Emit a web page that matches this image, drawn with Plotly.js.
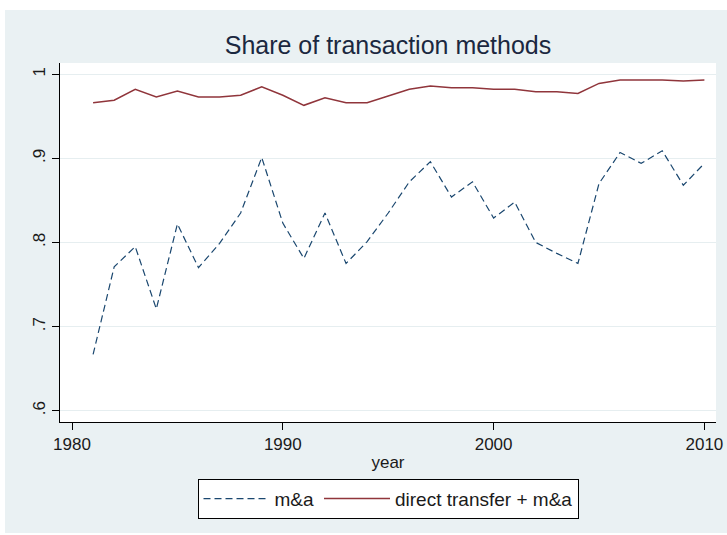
<!DOCTYPE html>
<html>
<head>
<meta charset="utf-8">
<script src="https://cdn.plot.ly/plotly-3.0.1.min.js"></script>
<style>
  html, body { margin: 0; padding: 0; background: #ffffff; }
  #chart { position: absolute; left: 5px; top: 10px; width: 722px; height: 523px; }
</style>
</head>
<body>
<div id="chart"></div>
<script>
// ---- data ----
const years = [1981, 1982, 1983, 1984, 1985, 1986, 1987, 1988, 1989, 1990,
               1991, 1992, 1993, 1994, 1995, 1996, 1997, 1998, 1999, 2000,
               2001, 2002, 2003, 2004, 2005, 2006, 2007, 2008, 2009, 2010];

const mAndA = [0.667, 0.771, 0.795, 0.721, 0.822, 0.770, 0.799, 0.835, 0.901, 0.823,
               0.781, 0.835, 0.775, 0.801, 0.835, 0.872, 0.896, 0.854, 0.872, 0.829,
               0.848, 0.800, 0.787, 0.775, 0.870, 0.907, 0.894, 0.909, 0.868, 0.894];

const directPlusMA = [0.966, 0.969, 0.982, 0.973, 0.980, 0.973, 0.973, 0.975, 0.985, 0.975,
                      0.963, 0.972, 0.966, 0.966, 0.974, 0.982, 0.986, 0.984, 0.984, 0.982,
                      0.982, 0.979, 0.979, 0.977, 0.989, 0.993, 0.993, 0.993, 0.992, 0.993];

const seriesNames = ["m&a", "direct transfer + m&a"];
const yTickVals = [0.6, 0.7, 0.8, 0.9, 1.0];
const yTickText = [".6", ".7", ".8", ".9", "1"];
const xTickVals = [1980, 1990, 2000, 2010];
const xTickText = ["1980", "1990", "2000", "2010"];
const chartTitle = "Share of transaction methods";
const xTitle = "year";

// ---- styling ----
const bg = "#EAF1F3";
const font = "Liberation Sans, Arial, Helvetica, sans-serif";

const traces = [
  {
    x: years, y: mAndA, name: seriesNames[0], type: "scatter", mode: "lines",
    line: { color: "#1A476F", width: 1.2, dash: "7px,4px" }
  },
  {
    x: years, y: directPlusMA, name: seriesNames[1], type: "scatter", mode: "lines",
    line: { color: "#90353B", width: 1.5 }
  }
];

const layout = {
  width: 722, height: 523,
  paper_bgcolor: bg,
  plot_bgcolor: "#ffffff",
  margin: { l: 55, r: 11, t: 53, b: 111, pad: 0 },
  font: { family: font, size: 17, color: "#1a1a1a" },
  title: {
    text: chartTitle,
    font: { family: font, size: 25, color: "#1b2840" },
    x: 0.5, xref: "paper", xanchor: "center",
    y: 1 - 35 / 523, yref: "container", yanchor: "middle"
  },
  xaxis: {
    range: [1979.43, 2010.55],
    tickmode: "array", tickvals: xTickVals, ticktext: xTickText,
    ticks: "outside", ticklen: 7, tickwidth: 1, tickcolor: "#000",
    showline: true, linecolor: "#000", linewidth: 1,
    showgrid: false, zeroline: false,
    tickfont: { family: font, size: 17, color: "#1a1a1a" },
    title: { text: xTitle, font: { family: font, size: 17, color: "#1a1a1a" }, standoff: 2 }
  },
  yaxis: {
    range: [0.5866, 1.0133],
    tickmode: "array", tickvals: yTickVals, ticktext: yTickText,
    tickangle: -90,
    ticks: "outside", ticklen: 7, tickwidth: 1, tickcolor: "#000",
    showline: true, linecolor: "#000", linewidth: 1,
    showgrid: true, gridcolor: "#E6EEF0", gridwidth: 1,
    zeroline: false,
    tickfont: { family: font, size: 17, color: "#1a1a1a" }
  },
  showlegend: true,
  legend: {
    orientation: "h",
    x: 0.5, xanchor: "center", xref: "paper",
    y: -0.158, yanchor: "top", yref: "paper",
    bgcolor: "#ffffff", bordercolor: "#000", borderwidth: 1,
    font: { family: font, size: 19, color: "#1a1a1a" },
    itemwidth: 66,
    tracegroupgap: 0,
    traceorder: "normal"
  }
};

Plotly.newPlot("chart", traces, layout, { displayModeBar: false, staticPlot: true });
</script>
</body>
</html>
